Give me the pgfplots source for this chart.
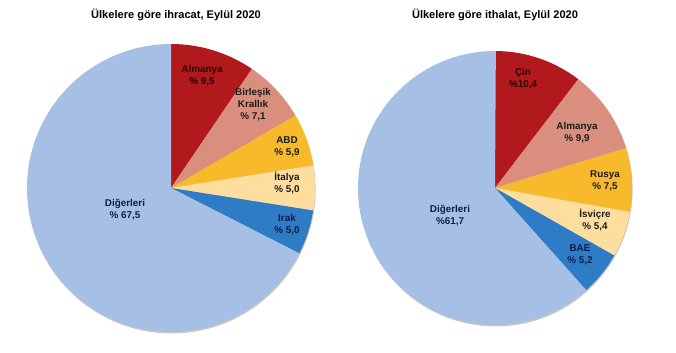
\documentclass[border=0pt]{standalone}
\usepackage{fontspec}
\setmainfont{Liberation Sans}
\usepackage{pgfplots}
\usepackage{pgfplotstable}
\pgfplotsset{compat=1.18}

\definecolor{cA}{HTML}{B2191C}
\definecolor{cB}{HTML}{DA8F7E}
\definecolor{cC}{HTML}{F8BA2B}
\definecolor{cD}{HTML}{FDDE9F}
\definecolor{cE}{HTML}{2E7CC6}
\definecolor{cF}{HTML}{A6BFE4}
\definecolor{tdark}{HTML}{1C1C1C}
\definecolor{tnavy}{HTML}{0E1E48}

\tikzset{
  lbl/.style={align=center, font=\bfseries\fontsize{9.9}{12}\selectfont, text=tdark, inner sep=0pt},
  ttl/.style={font=\bfseries\fontsize{11.1}{13}\selectfont, text=black, inner sep=0pt}
}

\pgfplotstableread{
value color
9.5 cA
7.1 cB
5.9 cC
5.0 cD
5.0 cE
67.5 cF
}\exportdata

\pgfplotstableread{
value color
10.4 cA
9.9 cB
7.5 cC
5.4 cD
5.2 cE
61.7 cF
}\importdata

\newcommand{\drawpie}[4]{%
  \edef\temp{\noexpand\fill[black!22] (axis cs:#2+0.6,#3-1.4) circle[radius=#4bp];}\temp
  \def\startang{90}%
  \pgfplotsforeachungrouped \i in {0,...,5}{%
    \pgfplotstablegetelem{\i}{value}\of{#1}\let\val\pgfplotsretval
    \pgfplotstablegetelem{\i}{color}\of{#1}\let\col\pgfplotsretval
    \pgfmathsetmacro{\endang}{\startang-3.6*\val}%
    \edef\temp{\noexpand\fill[\col] (axis cs:#2,#3) -- ++(\startang:#4bp) arc[start angle=\startang, end angle=\endang, radius=#4bp] -- cycle;}%
    \temp
    \global\let\startang\endang
  }%
}

\begin{document}
\begin{tikzpicture}
\begin{axis}[x=1bp, y=1bp, xmin=0, xmax=676, ymin=0, ymax=351,
  hide axis, clip=false]
\path (axis cs:0,0) rectangle (axis cs:676,351);
\drawpie{\exportdata}{171}{163}{144}
\drawpie{\importdata}{495}{163}{137}

\node[ttl] at (axis cs:176,336) {Ülkelere göre ihracat, Eylül 2020};
\node[ttl] at (axis cs:495,336) {Ülkelere göre ithalat, Eylül 2020};

\node[lbl, text=black!85!red] at (axis cs:202,275) {Almanya\\\% 9,5};
\node[lbl] at (axis cs:253,246) {Birleşik\\Krallık\\\% 7,1};
\node[lbl] at (axis cs:287,204) {ABD\\\% 5,9};
\node[lbl] at (axis cs:287,168) {İtalya\\\% 5,0};
\node[lbl, text=tnavy] at (axis cs:287,126.5) {Irak\\\% 5,0};
\node[lbl, text=tnavy] at (axis cs:125,141.5) {Diğerleri\\\% 67,5};

\node[lbl, text=black!85!red] at (axis cs:523,272.5) {Çin\\\%10,4};
\node[lbl] at (axis cs:577,218) {Almanya\\\% 9,9};
\node[lbl] at (axis cs:605,170) {Rusya\\\% 7,5};
\node[lbl] at (axis cs:595,131) {İsviçre\\\% 5,4};
\node[lbl, text=tnavy] at (axis cs:580,96) {BAE\\\% 5,2};
\node[lbl, text=tnavy] at (axis cs:450,135) {Diğerleri\\\%61,7};
\end{axis}
\end{tikzpicture}
\end{document}
